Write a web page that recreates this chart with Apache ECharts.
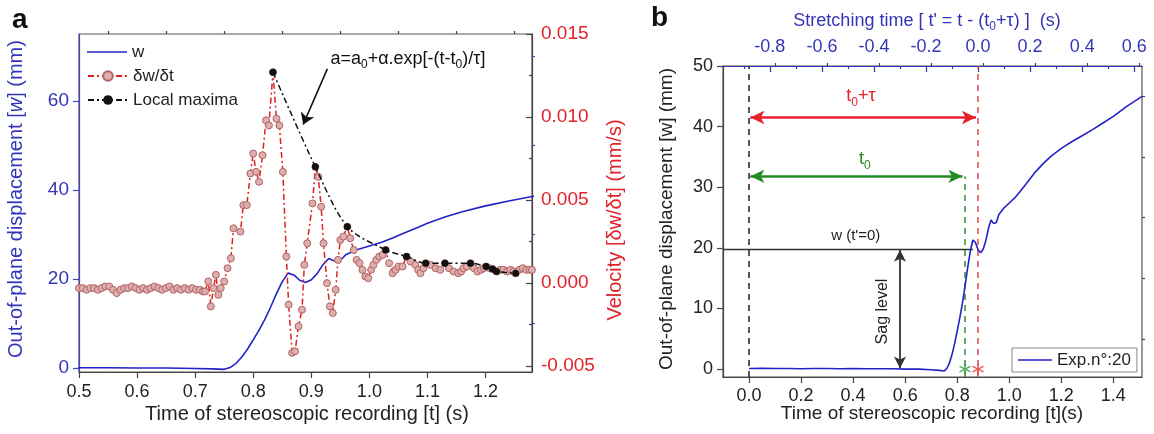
<!DOCTYPE html>
<html><head><meta charset="utf-8">
<script src="https://cdn.jsdelivr.net/npm/echarts@6/dist/echarts.min.js"></script>
<style>html,body{margin:0;padding:0;background:#fff}#c{width:1154px;height:434px}</style>
</head><body><div id="c"></div>
<script>
// ---------- DATA ----------
// out-of-plane displacement w (mm) vs time t (s)
const wPoints = [
 [0,0.1],[0.05,0.15],[0.1,0.1],[0.15,0.1],[0.2,0.05],[0.25,0.1],[0.3,0.1],[0.35,0.05],[0.4,0.1],[0.45,0.05],
 [0.5,0.05],[0.55,0.05],[0.6,0],[0.65,0],[0.7,-0.1],[0.73,-0.2],[0.75,-0.3],[0.76,0.1],[0.77,1.0],[0.78,2.4],
 [0.79,4.2],[0.8,6.3],[0.81,8.5],[0.82,10.9],[0.83,13.7],[0.84,16.7],[0.85,19.4],[0.86,21.3],[0.87,20.9],[0.88,19.7],
 [0.89,19.2],[0.9,19.8],[0.91,21.2],[0.92,23.2],[0.93,24.6],[0.94,24.0],[0.95,24.2],[0.96,25.5],[0.98,26.6],[1.0,27.4],
 [1.02,28.2],[1.04,29.2],[1.06,30.3],[1.08,31.4],[1.1,32.5],[1.13,33.9],[1.16,35.1],[1.2,36.4],[1.24,37.5],[1.28,38.5],
 [1.32,39.5],[1.36,40.6],[1.4,41.7],[1.45,43.3],[1.51,45.0]
];
// velocity dw/dt (mm/s) vs time t (s)
const vPoints = [
 [0.5,-0.0003],[0.5065,-0.0003],[0.513,-0.0004],[0.5195,-0.0003],[0.526,-0.0003],[0.5325,-0.0004],[0.539,-0.0003],
 [0.5455,-0.0002],[0.552,-0.0002],[0.5585,-0.0004],[0.565,-0.0006],[0.5715,-0.0004],[0.578,-0.0003],[0.5845,-0.0003],
 [0.591,-0.0002],[0.5975,-0.0003],[0.604,-0.0004],[0.6105,-0.0003],[0.617,-0.0004],[0.6235,-0.0003],[0.63,-0.0002],
 [0.6365,-0.0003],[0.643,-0.0004],[0.6495,-0.0003],[0.656,-0.0002],[0.6625,-0.0004],[0.669,-0.0003],[0.6755,-0.0004],
 [0.682,-0.0003],[0.6885,-0.0004],[0.695,-0.0003],[0.7015,-0.0004],[0.708,-0.0004],[0.7135,-0.0005],
 [0.717,-0.0005],[0.7226,0.0001],[0.727,-0.0014],[0.7316,-0.0003],[0.7357,0.0005],[0.74,-0.0007],[0.744,-0.0003],
 [0.75,0.0001],[0.7557,0.0009],[0.7615,0.0015],[0.766,0.0033],[0.778,0.0031],[0.783,0.0047],[0.789,0.0047],
 [0.795,0.0066],[0.8,0.0078],[0.805,0.0067],[0.81,0.0061],[0.816,0.0077],[0.822,0.0098],[0.827,0.0095],
 [0.834,0.0127],[0.84,0.0099],[0.845,0.0095],[0.851,0.0067],[0.857,0.0016],[0.861,-0.0013],[0.867,-0.0042],
 [0.872,-0.0041],[0.878,-0.0026],[0.884,-0.0016],[0.888,0.0011],[0.893,0.0024],[0.902,0.0048],[0.907,0.007],
 [0.912,0.0064],[0.917,0.0046],[0.921,0.0024],[0.927,0.0],[0.932,-0.0014],[0.937,-0.0018],[0.942,-0.0004],
 [0.946,0.0014],[0.95,0.0026],[0.955,0.0028],[0.962,0.0034],[0.967,0.0027],[0.973,0.002],[0.978,0.0014],
 [0.983,0.0012],[0.988,0.0008],[0.993,0.0004],[0.998,0.0003],[1.003,0.0008],[1.007,0.0011],[1.012,0.0014],
 [1.017,0.0016],[1.023,0.0017],[1.028,0.002],[1.034,0.0012],[1.04,0.0006],[1.045,0.0008],[1.05,0.001],
 [1.057,0.001],[1.064,0.0016],[1.071,0.0013],[1.079,0.0011],[1.084,0.0008],[1.088,0.0006],[1.093,0.0009],
 [1.097,0.0012],[1.105,0.0011],[1.114,0.0009],[1.122,0.0008],[1.13,0.0012],[1.137,0.0009],[1.145,0.0007],
 [1.153,0.0006],[1.158,0.0007],[1.162,0.0009],[1.168,0.001],[1.174,0.0012],[1.18,0.0009],[1.186,0.0007],
 [1.192,0.0008],[1.197,0.0009],[1.201,0.001],[1.207,0.0009],[1.212,0.00085],[1.219,0.0007],[1.225,0.0008],
 [1.231,0.0008],[1.237,0.0007],[1.243,0.0008],[1.248,0.0007],[1.252,0.0006],[1.258,0.0008],[1.264,0.0009],
 [1.27,0.0008],[1.276,0.0008],[1.28,0.0008]
];
// local maxima of velocity
const maxPoints = [
 [0.834,0.0127],[0.907,0.007],[0.962,0.0034],[1.028,0.002],[1.064,0.0016],[1.097,0.0012],
 [1.13,0.0012],[1.174,0.0012],[1.201,0.001],[1.212,0.00085],[1.219,0.0007],[1.252,0.0006]
];
// characteristic times / levels (panel b)
const t0 = 0.83;          // t0
const t0tau = 0.88;       // t0 + tau
const wAtT0 = 19.7;       // w(t'=0)
const t0Marker = [[0.83, 0]];
const t0tauMarker = [[0.88, 0]];
// tick values
const xTicksA = [0.5,0.6,0.7,0.8,0.9,1.0,1.1,1.2];
const xMinorA = [0.55,0.65,0.75,0.85,0.95,1.05,1.15,1.25];
const yTicksAL = [0,20,40,60];
const yMinorAL = [10,30,50,70];
const yTicksAR = [-0.005,0,0.005,0.010,0.015];
const yMinorAR = [-0.0025,0.0025,0.0075,0.0125];
const xTicksB = [0,0.2,0.4,0.6,0.8,1.0,1.2,1.4];
const xMinorB = [0.1,0.3,0.5,0.7,0.9,1.1,1.3,1.5];
const yTicksB = [0,10,20,30,40,50];
const yMinorB = [5,15,25,35,45];
const topTicksB = [-0.8,-0.6,-0.4,-0.2,0,0.2,0.4,0.6];
const topMinorB = [-0.9,-0.7,-0.5,-0.3,-0.1,0.1,0.3,0.5];

// ---------- CHART ----------
const FF = '"Liberation Sans", Arial, sans-serif';
const BLUE = '#2222c8', AXBLUE = '#3434b8', RED = '#e0222a', GREEN = '#228b22', DARK = '#444';
const chart = echarts.init(document.getElementById('c'), null, {width:1154, height:434});

function ax(o){
  const a = {type:'value', splitLine:{show:false},
    axisLine:{show:true, onZero:false, lineStyle:{color:o.color||DARK, width:1.2}},
    axisTick:{show:true, inside:!!o.inside, length:o.len||6, customValues:o.ticks, lineStyle:{color:o.color||DARK, width:1.2}},
    axisLabel:{show:!!o.labels, customValues:o.labels, margin:o.margin||10, fontSize:o.fs||18, fontFamily:FF,
      color:o.lcolor||'#222', formatter:o.fmt, showMinLabel:true, showMaxLabel:true},
    gridIndex:o.grid, min:o.min, max:o.max};
  if (o.position) a.position = o.position;
  if (o.minor){ a.axisLine.show=false; a.axisTick.length=3; a.axisLabel={show:false}; }
  return a;
}
const f1 = v => v.toFixed(1), f3 = v => v.toFixed(3), f0 = v => String(Math.round(v));
const legText = {fontSize:17, lineHeight:18, fontFamily:FF, color:'#222'};

const option = {
  animation:false,
  backgroundColor:'#fff',
  grid:[
    {left:79, top:34, width:453, height:338, show:true, borderColor:'#555', borderWidth:1.2, backgroundColor:'transparent'},
    {left:723, top:66, width:419, height:311, show:true, borderColor:'#555', borderWidth:1.2, backgroundColor:'transparent'}
  ],
  xAxis:[
    ax({grid:0, min:0.5, max:1.28, ticks:xTicksA, labels:xTicksA, fmt:f1, margin:11, fs:18}),
    ax({grid:0, min:0.5, max:1.28, ticks:xMinorA, minor:true}),
    ax({grid:1, min:-0.1, max:1.51, ticks:xTicksB, labels:xTicksB, fmt:f1, margin:10, fs:18}),
    ax({grid:1, min:-0.1, max:1.51, ticks:xMinorB, minor:true}),
    ax({grid:1, position:'top', min:-0.98, max:0.63, ticks:topTicksB, labels:topTicksB, fmt:f1, inside:true, color:AXBLUE, lcolor:AXBLUE, margin:10, fs:18}),
    ax({grid:1, position:'top', min:-0.98, max:0.63, ticks:topMinorB, minor:true, inside:true, color:AXBLUE})
  ],
  yAxis:[
    ax({grid:0, min:-0.9, max:75, ticks:yTicksAL, labels:yTicksAL, fmt:f0, color:'#4444c0', lcolor:AXBLUE, margin:10, fs:19}),
    ax({grid:0, min:-0.9, max:75, ticks:yMinorAL, minor:true, color:'#4444c0'}),
    ax({grid:0, position:'right', min:-0.00535, max:0.015, ticks:yTicksAR, labels:yTicksAR, fmt:f3, inside:true, lcolor:RED, margin:9, fs:19}),
    ax({grid:0, position:'right', min:-0.00535, max:0.015, ticks:yMinorAR, minor:true, inside:true}),
    ax({grid:1, min:-1.3, max:50, ticks:yTicksB, labels:yTicksB, fmt:f0, margin:10, fs:18}),
    ax({grid:1, min:-1.3, max:50, ticks:yMinorB, minor:true})
  ],
  legend:[
    {data:[{name:'w', icon:'rect'}], left:82, top:38, itemWidth:40, itemHeight:1.6, textStyle:legText, selectedMode:false},
    {data:['δw/δt','Local maxima'], orient:'vertical', left:82, top:62, itemWidth:40, itemHeight:12, itemGap:6,
     textStyle:legText, selectedMode:false},
    {data:[{name:'Exp.n°:20', icon:'rect'}], left:1012, top:348, itemWidth:34, itemHeight:1.6, itemGap:0, padding:[3,6],
     borderColor:'#888', borderWidth:1, backgroundColor:'#fff', textStyle:legText, selectedMode:false}
  ],
  series:[
    {name:'w', type:'line', xAxisIndex:0, yAxisIndex:0, data:wPoints, symbol:'none', clip:true,
     lineStyle:{color:BLUE, width:1.6}, itemStyle:{color:BLUE}, z:3},
    {name:'δw/δt', type:'line', xAxisIndex:0, yAxisIndex:2, data:vPoints, symbol:'circle', symbolSize:7, clip:true,
     lineStyle:{color:'#e21f1f', width:1.5, type:[6,3,2,3]}, itemStyle:{color:'#dcaeae', borderColor:'#b46262', borderWidth:1}, z:4,
     markLine:{silent:true, animation:false, symbol:['none','arrow'], symbolSize:11, label:{show:false},
       lineStyle:{color:'#111', width:1.6, type:'solid'},
       data:[[{coord:[0.9276,0.0129]},{coord:[0.886,0.00955]}]]}},
    {name:'Local maxima', type:'line', xAxisIndex:0, yAxisIndex:2, data:maxPoints, symbol:'circle', symbolSize:7, smooth:0.3,
     lineStyle:{color:'#111', width:1.5, type:[6,3,2,3]}, itemStyle:{color:'#111'}, z:5},
    {name:'Exp.n°:20', type:'line', xAxisIndex:2, yAxisIndex:4, data:wPoints, symbol:'none', clip:true,
     lineStyle:{color:BLUE, width:1.6}, itemStyle:{color:BLUE}, z:5,
     markLine:{silent:true, animation:false, symbol:'none', label:{show:false}, data:[
       {xAxis:0, lineStyle:{color:'#222', type:[6,5], width:1.5}},
       {xAxis:t0tau, lineStyle:{color:'#e24a4a', type:[6,5], width:1.5}},
       [{coord:[t0,-1.3], lineStyle:{color:'#2f8f2f', type:[6,5], width:1.5}},{coord:[t0,31.8]}],
       [{coord:[-0.1,wAtT0], lineStyle:{color:'#333', type:'solid', width:1.3}},{coord:[0.86,wAtT0]}],
       [{coord:[0.005,41.5], symbol:'arrow', symbolSize:[10,14], lineStyle:{color:'#e8202a', type:'solid', width:2.5}},
        {coord:[t0tau-0.008,41.5], symbol:'arrow', symbolSize:[10,14]}],
       [{coord:[0.005,31.8], symbol:'arrow', symbolSize:[10,14], lineStyle:{color:GREEN, type:'solid', width:2.5}},
        {coord:[0.82,31.8], symbol:'arrow', symbolSize:[10,14]}],
       [{coord:[0.58,wAtT0], symbol:'arrow', symbolSize:[9,12], lineStyle:{color:'#333', type:'solid', width:1.8}},
        {coord:[0.58,0.1], symbol:'arrow', symbolSize:[9,12]}]
     ]}},
    {name:'t0mark', type:'scatter', xAxisIndex:2, yAxisIndex:4, data:t0Marker, symbolSize:11, z:6,
     symbol:'path://M5 0L5 10M0.67 2.5L9.33 7.5M0.67 7.5L9.33 2.5',
     itemStyle:{color:'none', borderColor:'#2f9a2f', borderWidth:1.5}},
    {name:'t0taumark', type:'scatter', xAxisIndex:2, yAxisIndex:4, data:t0tauMarker, symbolSize:11, z:6,
     symbol:'path://M5 0L5 10M0.67 2.5L9.33 7.5M0.67 7.5L9.33 2.5',
     itemStyle:{color:'none', borderColor:'#e83030', borderWidth:1.5}}
  ]
};
chart.setOption(option);

// ---------- TEXT ANNOTATIONS ----------
const pA = v => chart.convertToPixel({xAxisIndex:0, yAxisIndex:2}, v);
const pB = v => chart.convertToPixel({xAxisIndex:2, yAxisIndex:4}, v);
function txt(x, y, text, opt){
  opt = opt || {};
  return {type:'text', x:x, y:y, rotation:opt.rot||0, z:100, silent:true,
    style:{text:text, font:(opt.bold?'bold ':'')+(opt.fs||20)+'px '+FF, fill:opt.color||'#222',
      textAlign:opt.align||'center', textVerticalAlign:'middle', rich:opt.rich}};
}
function sub(color, fs, sfs){
  return {n:{fontSize:fs, fontFamily:FF, fill:color, lineHeight:fs+6},
          i:{fontSize:fs, fontFamily:FF, fill:color, fontStyle:'italic', lineHeight:fs+6},
          s:{fontSize:sfs, fontFamily:FF, fill:color, lineHeight:sfs, verticalAlign:'bottom'}};
}
const fp = pA([0.933, 0.01351]);
const b1 = pB([0.43, 45.0]), b2 = pB([0.445, 34.6]), b3 = pB([0.41, 21.9]), b4 = pB([0.515, 9.5]);
const R90 = Math.PI/2;
chart.setOption({graphic:[
  txt(12, 20, 'a', {bold:true, fs:28, align:'left', color:'#111'}),
  txt(651, 18, 'b', {bold:true, fs:28, align:'left', color:'#111'}),
  txt(16, 199, '{n|Out-of-plane displacement [}{i|w}{n|] (mm)}', {rot:R90, color:AXBLUE, rich:sub(AXBLUE,20,13)}),
  txt(615, 220, 'Velocity [δw/δt] (mm/s)', {rot:R90, fs:20, color:RED}),
  txt(307, 414, 'Time of stereoscopic recording [t] (s)', {fs:20}),
  txt(667, 219, 'Out-of-plane displacement [w] (mm)', {rot:R90, fs:19}),
  txt(932, 414, 'Time of stereoscopic recording [t](s)', {fs:19}),
  txt(927, 21, "{n|Stretching time [ t' = t - (t}{s|0}{n|+τ) ]  (s)}", {color:AXBLUE, rich:sub(AXBLUE,18,12)}),
  txt(fp[0], fp[1], '{n|a=a}{s|0}{n|+α.exp[-(t-t}{s|0}{n|)/τ]}', {align:'left', rich:sub('#111',18,12)}),
  txt(b1[0], b1[1], '{n|t}{s|0}{n|+τ}', {rich:sub('#e8202a',18,12)}),
  txt(b2[0], b2[1], '{n|t}{s|0}', {rich:sub(GREEN,18,12)}),
  txt(b3[0], b3[1], "w (t'=0)", {fs:15}),
  txt(b4[0], b4[1], 'Sag level', {rot:R90, fs:16})
]});
</script></body></html>
